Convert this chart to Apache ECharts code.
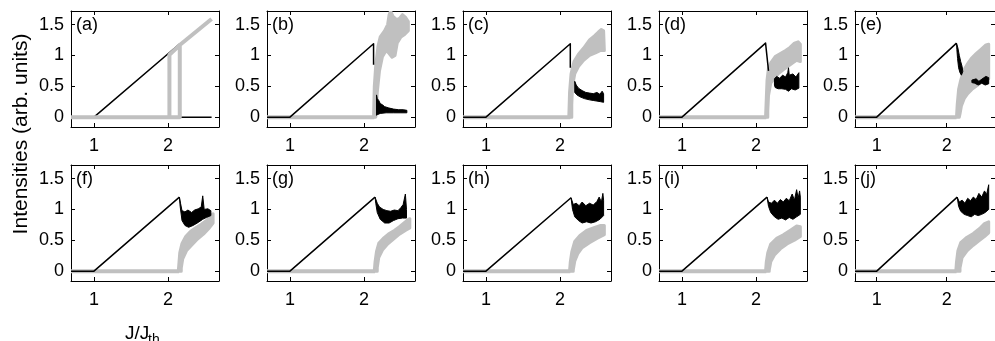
<!DOCTYPE html>
<html><head><meta charset="utf-8">
<script src="https://cdn.jsdelivr.net/npm/echarts@6/dist/echarts.min.js"></script>
<style>html,body{margin:0;padding:0;background:#fff}#c{width:995px;height:341px}</style>
</head><body><div id="c"></div>
<script>
// ---------- data ----------
const panelLabels = ['(a)','(b)','(c)','(d)','(e)','(f)','(g)','(h)','(i)','(j)'];
const xTicks = [1, 2];
const yTicks = [0, 0.5, 1, 1.5];
const xRange = [0.69, 2.69];
const yRange = [-0.16, 1.72];

// (a)
const aBlack = [[0.69,0],[1.0,0],[2.16,1.19],[2.16,0],[2.59,0]];
const aGray = [[0.69,0],[2.16,0],[2.16,1.17],[2.02,1.01],[2.02,0],[2.02,1.01],[2.16,1.17],[2.59,1.59]];
// (b)
const bBlack = [[0.69,0],[1.0,0],[2.13,1.19],[2.13,0.85]];
const bBlackBand = [[2.17,0.36],[2.18,0.3],[2.2,0.27],[2.22,0.22],[2.25,0.2],[2.28,0.17],[2.33,0.15],[2.4,0.13],[2.47,0.12],[2.53,0.12],[2.58,0.11],[2.58,0.07],[2.5,0.07],[2.4,0.07],[2.3,0.07],[2.22,0.06],[2.18,0.04],[2.17,0.03]];
const bGray = [[0.69,0],[2.14,0]];
const bGrayBand = [[2.13,0],[2.14,0.5],[2.16,0.85],[2.19,1.15],[2.22,1.3],[2.28,1.4],[2.32,1.5],[2.34,1.66],[2.36,1.72],[2.39,1.64],[2.44,1.58],[2.48,1.6],[2.52,1.66],[2.56,1.62],[2.6,1.55],[2.6,1.4],[2.55,1.34],[2.5,1.3],[2.45,1.2],[2.42,1.0],[2.38,0.97],[2.34,1.03],[2.3,1.08],[2.25,0.98],[2.21,0.75],[2.18,0.4],[2.165,0.04],[2.16,0]];
// (c)
const cBlack = [[0.69,0],[1.0,0],[2.14,1.19],[2.14,0.8]];
const cBlackBand = [[2.2,0.58],[2.22,0.52],[2.25,0.47],[2.3,0.43],[2.35,0.4],[2.4,0.39],[2.45,0.38],[2.5,0.4],[2.54,0.37],[2.57,0.42],[2.59,0.38],[2.59,0.24],[2.55,0.25],[2.5,0.26],[2.45,0.27],[2.4,0.28],[2.33,0.3],[2.27,0.33],[2.23,0.36],[2.2,0.4]];
const cGray = [[0.69,0],[2.14,0]];
const cGrayBand = [[2.12,0],[2.13,0.4],[2.15,0.7],[2.19,0.9],[2.25,1.02],[2.32,1.12],[2.4,1.25],[2.47,1.32],[2.52,1.38],[2.56,1.42],[2.59,1.4],[2.6,1.08],[2.55,1.08],[2.48,1.04],[2.4,1.0],[2.32,0.92],[2.25,0.82],[2.2,0.7],[2.17,0.5],[2.16,0.2],[2.16,0]];
// (d)
const dBlack = [[0.69,0],[1.0,0],[2.13,1.2],[2.17,0.75]];
const dBlackBand = [[2.25,0.62],[2.28,0.66],[2.32,0.63],[2.36,0.68],[2.4,0.65],[2.43,0.72],[2.44,0.8],[2.45,0.68],[2.5,0.7],[2.54,0.65],[2.58,0.72],[2.58,0.47],[2.53,0.44],[2.48,0.46],[2.44,0.42],[2.4,0.45],[2.35,0.46],[2.3,0.46],[2.26,0.48],[2.25,0.52]];
const dGray = [[0.69,0],[2.14,0]];
const dGrayBand = [[2.13,0],[2.14,0.3],[2.15,0.6],[2.17,0.8],[2.2,0.88],[2.26,0.98],[2.33,1.03],[2.4,1.08],[2.46,1.13],[2.52,1.2],[2.57,1.22],[2.6,1.18],[2.6,0.9],[2.55,0.92],[2.5,0.88],[2.43,0.82],[2.36,0.76],[2.3,0.7],[2.25,0.63],[2.2,0.55],[2.17,0.35],[2.16,0.1],[2.16,0]];
// (e)
const eBlack = [[0.69,0],[1.0,0],[2.14,1.2]];
const eBlackBand1 = [[2.14,1.2],[2.16,1.12],[2.18,1.0],[2.2,0.9],[2.22,0.82],[2.23,0.74],[2.21,0.68],[2.19,0.72],[2.17,0.8],[2.155,0.95],[2.145,1.1]];
const eBlackBand2 = [[2.36,0.6],[2.42,0.62],[2.46,0.58],[2.52,0.63],[2.56,0.66],[2.6,0.64],[2.6,0.54],[2.55,0.52],[2.5,0.55],[2.45,0.52],[2.4,0.55],[2.36,0.56]];
const eGray = [[0.69,0],[2.14,0]];
const eGrayBand = [[2.14,0],[2.15,0.2],[2.17,0.45],[2.2,0.6],[2.24,0.75],[2.29,0.85],[2.35,0.95],[2.42,1.03],[2.49,1.1],[2.56,1.17],[2.6,1.18],[2.6,0.62],[2.55,0.6],[2.49,0.56],[2.42,0.5],[2.36,0.45],[2.3,0.38],[2.25,0.3],[2.21,0.18],[2.19,0.05],[2.18,0]];
// (f)
const fBlack = [[0.69,0],[1.0,0],[2.155,1.2]];
const fBlackBand = [[2.155,1.2],[2.17,1.1],[2.19,0.98],[2.23,0.96],[2.27,0.99],[2.32,0.95],[2.36,0.99],[2.41,1.01],[2.45,1.04],[2.47,1.22],[2.49,1.0],[2.54,1.01],[2.58,0.98],[2.58,0.9],[2.52,0.87],[2.47,0.84],[2.41,0.79],[2.34,0.74],[2.28,0.71],[2.23,0.74],[2.19,0.82],[2.165,1.05]];
const fGray = [[0.69,0],[2.15,0]];
const fGrayBand = [[2.14,0],[2.15,0.15],[2.16,0.3],[2.19,0.45],[2.24,0.56],[2.3,0.64],[2.37,0.7],[2.45,0.76],[2.52,0.82],[2.58,0.9],[2.61,0.93],[2.61,0.78],[2.56,0.7],[2.48,0.6],[2.4,0.52],[2.32,0.42],[2.25,0.33],[2.2,0.2],[2.18,0.05],[2.18,0]];
// (g)
const gBlack = [[0.69,0],[1.0,0],[2.15,1.2]];
const gBlackBand = [[2.15,1.2],[2.18,1.1],[2.21,1.04],[2.26,1.0],[2.31,0.98],[2.36,0.97],[2.41,0.99],[2.46,0.98],[2.5,1.03],[2.53,1.08],[2.56,1.25],[2.575,1.0],[2.575,0.86],[2.52,0.86],[2.46,0.85],[2.4,0.82],[2.34,0.78],[2.28,0.78],[2.22,0.84],[2.18,0.95],[2.16,1.1]];
const gGray = [[0.69,0],[2.15,0]];
const gGrayBand = [[2.14,0],[2.15,0.15],[2.17,0.32],[2.2,0.45],[2.26,0.53],[2.33,0.6],[2.41,0.66],[2.48,0.72],[2.55,0.79],[2.6,0.84],[2.62,0.85],[2.62,0.7],[2.56,0.66],[2.48,0.6],[2.4,0.52],[2.32,0.44],[2.25,0.34],[2.2,0.22],[2.18,0.06],[2.18,0]];
// (h)
const hBlack = [[0.69,0],[1.0,0],[2.15,1.19]];
const hBlackBand = [[2.15,1.19],[2.18,1.08],[2.22,1.1],[2.26,1.06],[2.3,1.12],[2.35,1.06],[2.4,1.1],[2.45,1.07],[2.5,1.13],[2.53,1.2],[2.56,1.12],[2.58,1.26],[2.59,1.15],[2.59,0.9],[2.54,0.84],[2.48,0.8],[2.42,0.78],[2.36,0.8],[2.3,0.78],[2.25,0.82],[2.2,0.88],[2.17,1.0]];
const hGray = [[0.69,0],[2.14,0]];
const hGrayBand = [[2.13,0],[2.14,0.15],[2.16,0.31],[2.2,0.48],[2.27,0.58],[2.36,0.66],[2.47,0.71],[2.55,0.74],[2.6,0.74],[2.6,0.59],[2.5,0.53],[2.4,0.46],[2.3,0.38],[2.24,0.28],[2.2,0.16],[2.18,0.02],[2.18,0]];
// (i)
const iBlack = [[0.69,0],[1.0,0],[2.15,1.2]];
const iBlackBand = [[2.15,1.2],[2.17,1.12],[2.21,1.1],[2.25,1.15],[2.29,1.1],[2.33,1.16],[2.37,1.12],[2.41,1.18],[2.45,1.14],[2.49,1.25],[2.52,1.15],[2.55,1.32],[2.57,1.18],[2.59,1.3],[2.6,1.2],[2.6,0.92],[2.55,0.88],[2.5,0.84],[2.45,0.87],[2.4,0.83],[2.35,0.86],[2.3,0.84],[2.25,0.88],[2.2,0.95],[2.17,1.05]];
const iGray = [[0.69,0],[2.14,0]];
const iGrayBand = [[2.13,0],[2.14,0.15],[2.16,0.3],[2.2,0.44],[2.28,0.53],[2.37,0.59],[2.46,0.66],[2.55,0.73],[2.6,0.72],[2.6,0.56],[2.52,0.5],[2.42,0.44],[2.33,0.36],[2.25,0.26],[2.2,0.15],[2.18,0.02],[2.18,0]];
// (j)
const jBlack = [[0.69,0],[1.0,0],[2.15,1.2]];
const jBlackBand = [[2.15,1.2],[2.18,1.12],[2.22,1.15],[2.26,1.1],[2.3,1.18],[2.34,1.14],[2.38,1.2],[2.42,1.16],[2.46,1.26],[2.5,1.2],[2.54,1.3],[2.57,1.24],[2.6,1.4],[2.6,1.0],[2.55,0.95],[2.5,0.92],[2.45,0.9],[2.4,0.92],[2.35,0.88],[2.3,0.9],[2.25,0.92],[2.2,0.97],[2.17,1.05]];
const jGray = [[0.69,0],[2.14,0]];
const jGrayBand = [[2.13,0],[2.14,0.15],[2.16,0.33],[2.2,0.46],[2.29,0.55],[2.38,0.61],[2.47,0.69],[2.54,0.77],[2.6,0.8],[2.6,0.62],[2.54,0.56],[2.47,0.5],[2.38,0.42],[2.29,0.33],[2.22,0.22],[2.19,0.05],[2.19,0]];

// ---------- layout / style ----------
const FONT = "'Liberation Sans', Arial, Helvetica, sans-serif";
const BLACK = '#000000';
const GRAY = '#c0c0c0';
const PW = 148, PH = 116;
const LEFT0 = 71, TOP0 = 11, DX = 196, DY = 154;

const panels = [
  {lines:[{d:aBlack,c:BLACK,w:1.5},{d:aGray,c:GRAY,w:4}], bands:[]},
  {lines:[{d:bGray,c:GRAY,w:4},{d:bBlack,c:BLACK,w:1.5}], bands:[{d:bGrayBand,c:GRAY,w:3},{d:bBlackBand,c:BLACK,w:1}]},
  {lines:[{d:cGray,c:GRAY,w:4},{d:cBlack,c:BLACK,w:1.5}], bands:[{d:cGrayBand,c:GRAY,w:3},{d:cBlackBand,c:BLACK,w:1}]},
  {lines:[{d:dGray,c:GRAY,w:4},{d:dBlack,c:BLACK,w:1.5}], bands:[{d:dGrayBand,c:GRAY,w:3},{d:dBlackBand,c:BLACK,w:1}]},
  {lines:[{d:eGray,c:GRAY,w:4},{d:eBlack,c:BLACK,w:1.5}], bands:[{d:eGrayBand,c:GRAY,w:3},{d:eBlackBand1,c:BLACK,w:1},{d:eBlackBand2,c:BLACK,w:1}]},
  {lines:[{d:fGray,c:GRAY,w:4},{d:fBlack,c:BLACK,w:1.5}], bands:[{d:fGrayBand,c:GRAY,w:3},{d:fBlackBand,c:BLACK,w:1}]},
  {lines:[{d:gGray,c:GRAY,w:4},{d:gBlack,c:BLACK,w:1.5}], bands:[{d:gGrayBand,c:GRAY,w:3},{d:gBlackBand,c:BLACK,w:1}]},
  {lines:[{d:hGray,c:GRAY,w:4},{d:hBlack,c:BLACK,w:1.5}], bands:[{d:hGrayBand,c:GRAY,w:3},{d:hBlackBand,c:BLACK,w:1}]},
  {lines:[{d:iGray,c:GRAY,w:4},{d:iBlack,c:BLACK,w:1.5}], bands:[{d:iGrayBand,c:GRAY,w:3},{d:iBlackBand,c:BLACK,w:1}]},
  {lines:[{d:jGray,c:GRAY,w:4},{d:jBlack,c:BLACK,w:1.5}], bands:[{d:jGrayBand,c:GRAY,w:3},{d:jBlackBand,c:BLACK,w:1}]}
];

const grid = [], xAxis = [], yAxis = [], series = [], graphic = [];
panels.forEach((p, i) => {
  const col = i % 5, row = Math.floor(i / 5);
  const left = LEFT0 + col * DX, top = TOP0 + row * DY;
  grid.push({left: left, top: top, width: PW, height: PH, containLabel: false});
  const tickCommon = {show: true, inside: true, length: 4, lineStyle: {color: BLACK, width: 1}};
  const lineCommon = {show: true, onZero: false, lineStyle: {color: BLACK, width: 1}};
  xAxis.push({type: 'value', gridIndex: i, position: 'bottom', min: xRange[0], max: xRange[1],
    axisLine: lineCommon, axisTick: Object.assign({customValues: xTicks}, tickCommon),
    axisLabel: {customValues: xTicks, margin: 10, color: BLACK, fontSize: 18, fontFamily: FONT},
    splitLine: {show: false}});
  xAxis.push({type: 'value', gridIndex: i, position: 'top', min: xRange[0], max: xRange[1],
    axisLine: lineCommon, axisTick: Object.assign({customValues: xTicks}, tickCommon),
    axisLabel: {show: false}, splitLine: {show: false}});
  yAxis.push({type: 'value', gridIndex: i, position: 'left', min: yRange[0], max: yRange[1],
    axisLine: lineCommon, axisTick: Object.assign({customValues: yTicks}, tickCommon),
    axisLabel: {customValues: yTicks, margin: 7, color: BLACK, fontSize: 18, fontFamily: FONT},
    splitLine: {show: false}});
  yAxis.push({type: 'value', gridIndex: i, position: 'right', min: yRange[0], max: yRange[1],
    axisLine: lineCommon, axisTick: Object.assign({customValues: yTicks}, tickCommon),
    axisLabel: {show: false}, splitLine: {show: false}});
  const xi = 2 * i, yi = 2 * i;
  const addLine = (l) => series.push({type: 'line', xAxisIndex: xi, yAxisIndex: yi, data: l.d,
    showSymbol: false, symbol: 'none', animation: false, silent: true, clip: true,
    lineStyle: {color: l.c, width: l.w, join: 'round', cap: 'butt'}});
  const addBand = (b) => series.push({type: 'custom', xAxisIndex: xi, yAxisIndex: yi, data: b.d,
    animation: false, silent: true, clip: true,
    renderItem: function (params, api) {
      if (params.dataIndex !== 0) return null;
      const pts = b.d.map(pt => api.coord(pt));
      return {type: 'polygon', shape: {points: pts},
        style: {fill: b.c, stroke: b.c, lineWidth: b.w, lineJoin: 'round'}};
    }});
  if (i === 0) { p.lines.forEach(addLine); }
  else {
    addLine(p.lines[0]);
    addBand(p.bands[0]);
    addLine(p.lines[1]);
    p.bands.slice(1).forEach(addBand);
  }
  graphic.push({type: 'text', x: left + 5, y: top + 5, style: {text: panelLabels[i], fill: BLACK,
    font: '18px ' + FONT, textAlign: 'left', textVerticalAlign: 'top'}});
});

graphic.push({type: 'text', x: 21, y: 134, rotation: Math.PI / 2, style: {text: 'Intensities (arb. units)',
  fill: BLACK, font: '21px ' + FONT, textAlign: 'center', textVerticalAlign: 'middle'}});
graphic.push({type: 'text', x: 125, y: 324, style: {text: 'J/J', fill: BLACK, font: '19px ' + FONT,
  textAlign: 'left', textVerticalAlign: 'top'}});
graphic.push({type: 'text', x: 148, y: 333, style: {text: 'th', fill: BLACK, font: '14px ' + FONT,
  textAlign: 'left', textVerticalAlign: 'top'}});

const chart = echarts.init(document.getElementById('c'), null, {renderer: 'canvas'});
chart.setOption({animation: false, backgroundColor: '#ffffff', grid, xAxis, yAxis, series, graphic});
</script></body></html>
